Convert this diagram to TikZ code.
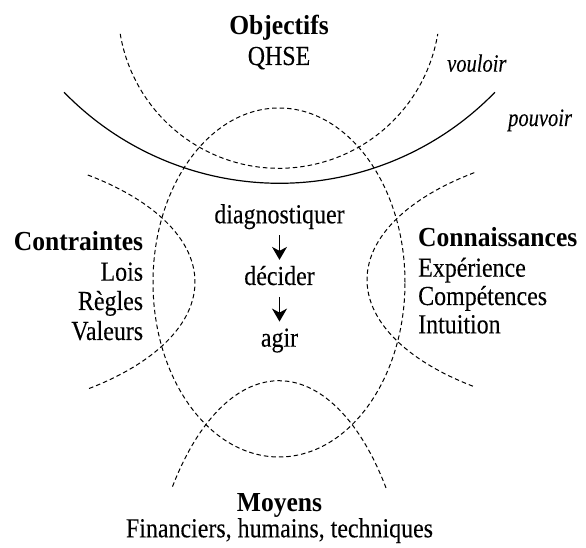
\documentclass[tikz,border=0pt]{standalone}
\usepackage{fontspec}
\usetikzlibrary{arrows.meta}
\newfontfamily\regf[FakeStretch=0.87, FakeBold=0.15]{Liberation Serif}
\newfontfamily\boldf[FakeStretch=0.93]{Liberation Serif}
\newfontfamily\itf[FakeStretch=0.82, FakeBold=0.1]{Liberation Serif}
\tikzset{
  lab/.style={inner sep=0pt, font=\fontsize{27.5}{30}\selectfont\regf},
  hd/.style={inner sep=0pt, font=\fontsize{27.5}{30}\selectfont\boldf\bfseries},
  itl/.style={inner sep=0pt, font=\fontsize{25}{28}\selectfont\itf\itshape},
  ctr/.style={lab, text height=18.9pt, text depth=6.75pt},
  dsh/.style={dash pattern=on 4.5pt off 3pt, line width=1pt},
  solidarc/.style={line width=1.2pt},
  arr/.style={line width=1.5pt, -{Stealth[length=13pt,width=15pt,inset=4pt]}, shorten <=5pt, shorten >=6pt}
}
\begin{document}
\begin{tikzpicture}[x=1pt,y=1pt]
\useasboundingbox (0,0) rectangle (586,548);
% central ellipse
\draw[dsh] (279,265.5) ellipse [x radius=126, y radius=174.5];
% objectifs (vouloir)
\draw[dsh] (279,540.7) ++(189.5:161) arc[start angle=189.5, end angle=350.5, radius=161];
% pouvoir
\draw[solidarc] (279.5,665.1) ++(224.2:300.4) arc[start angle=224.2, end angle=315.8, radius=300.4];
% contraintes
\draw[dsh] (-85,266) ++(51.9:280 and 136) arc[start angle=51.9, end angle=-51.9, x radius=280, y radius=136];
% connaissances
\draw[dsh] (647,268.3) ++(128.1:280 and 136) arc[start angle=128.1, end angle=231.9, x radius=280, y radius=136];
% moyens
\draw[dsh] (279,-112.7) ++(38.1:136 and 280) arc[start angle=38.1, end angle=141.9, x radius=136, y radius=280];

\node[hd, anchor=base] (obj) at (279,513.7) {Objectifs};
\node[lab, anchor=base] (qhse) at (279,483) {QHSE};
\node[itl, anchor=base west] (voul) at (447,476.3) {vouloir};
\node[itl, anchor=base west] (pouv) at (508,422) {pouvoir};

\node[hd, anchor=base east] (contr) at (143.3,297) {Contraintes};
\node[lab, anchor=base east] (lois) at (143.3,267.3) {Lois};
\node[lab, anchor=base east] (regl) at (143.3,238) {Règles};
\node[lab, anchor=base east] (val) at (143.3,208) {Valeurs};

\node[hd, anchor=base west] (conn) at (418,301) {Connaissances};
\node[lab, anchor=base west] (expe) at (418,271.3) {Expérience};
\node[lab, anchor=base west] (comp) at (418,243) {Compétences};
\node[lab, anchor=base west] (intu) at (418,214.7) {Intuition};

\node[ctr, anchor=base] (diag) at (279.5,324.7) {diagnostiquer};
\node[ctr, anchor=base] (dec) at (279.5,263) {décider};
\node[ctr, anchor=base] (agir) at (279.5,201.3) {agir};
\draw[arr] (diag) -- (dec);
\draw[arr] (dec) -- (agir);

\node[hd, anchor=base] (moy) at (279.5,36.3) {Moyens};
\node[lab, anchor=base] (fin) at (279.5,10.7) {Financiers, humains, techniques};
\end{tikzpicture}
\end{document}
